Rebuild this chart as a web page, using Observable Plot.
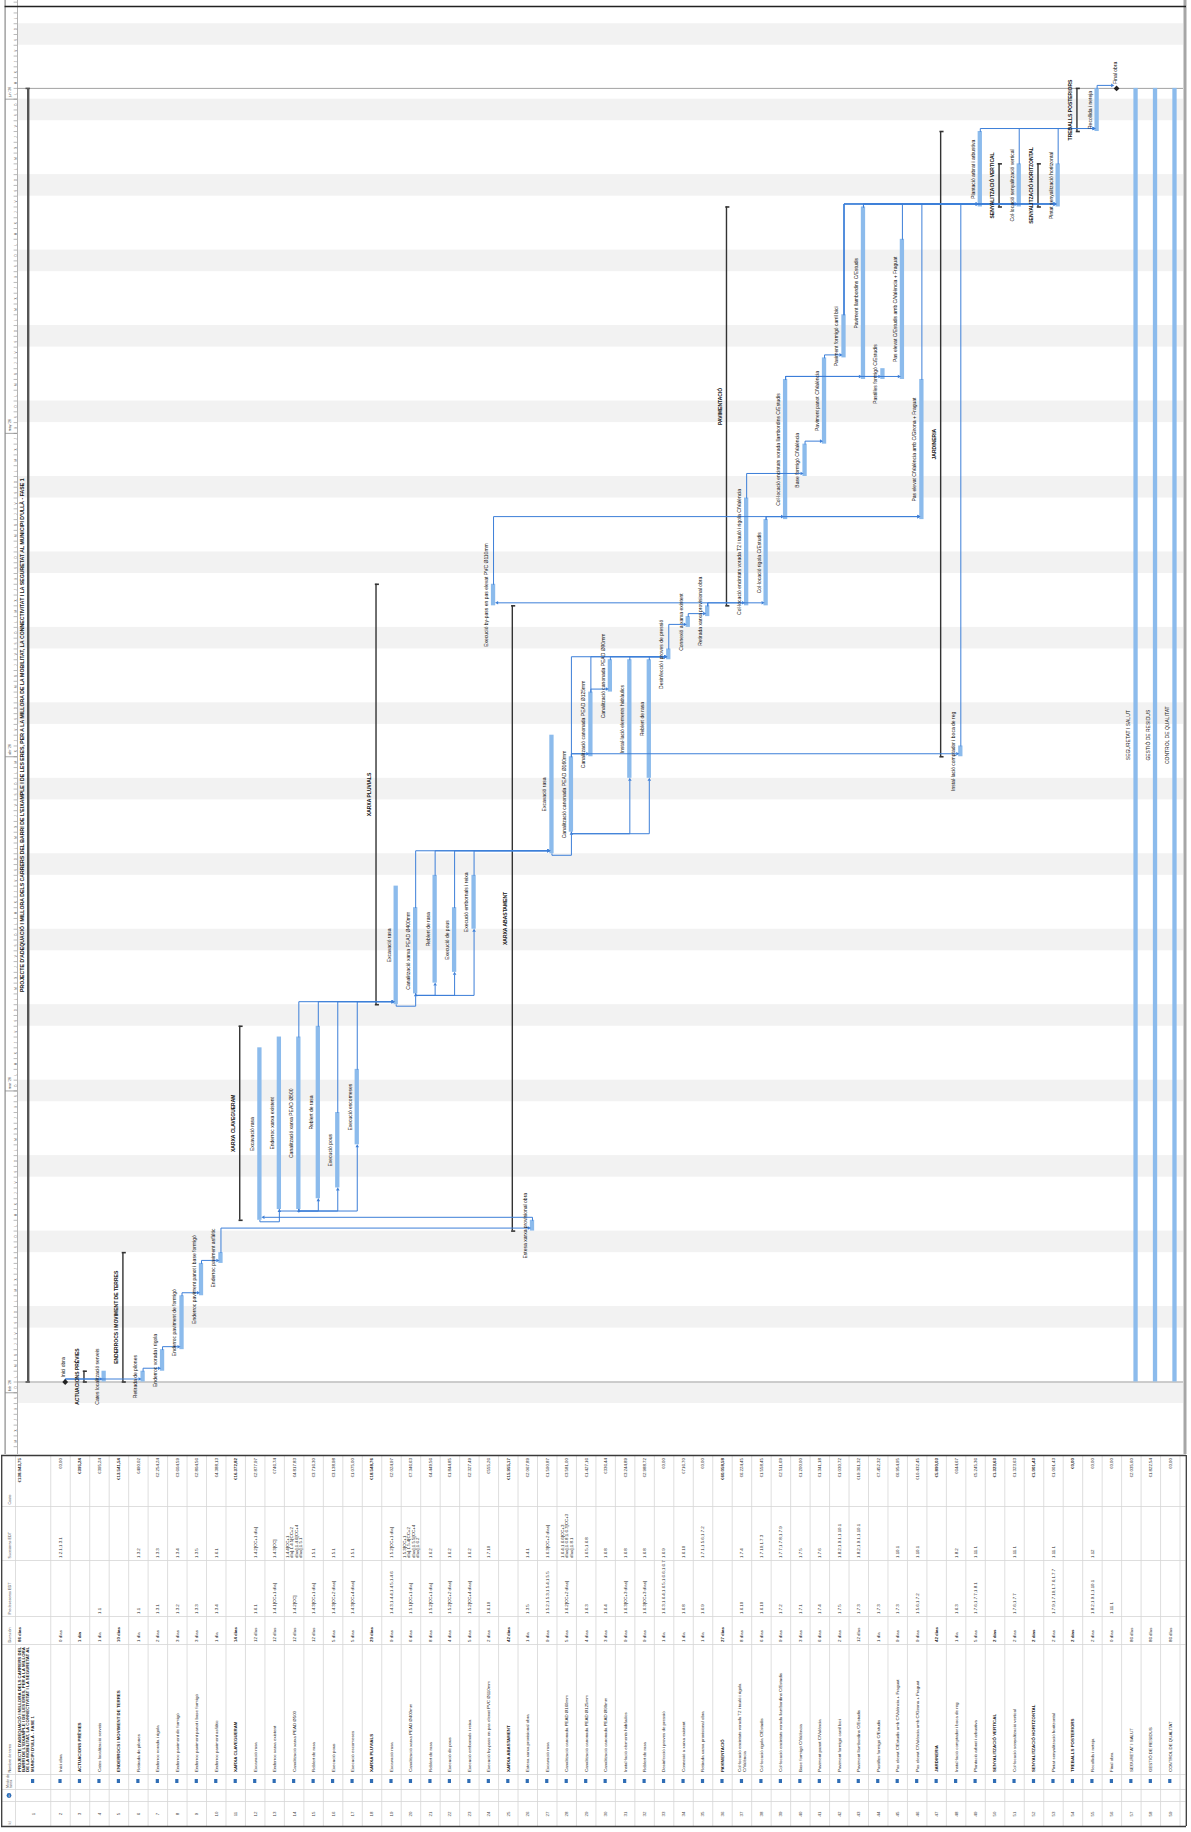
<!DOCTYPE html>
<html lang="ca">
<head>
<meta charset="utf-8">
<script src="https://cdn.jsdelivr.net/npm/d3@7"></script>
<script src="https://cdn.jsdelivr.net/npm/@observablehq/plot@0.6"></script>
<style>
html,body{margin:0;padding:0;background:#fff;}
#chart svg{display:block;}
</style>
</head>
<body>
<div id="chart"></div>
<script>
// ================= DATA =================
const taskNames = [
 "PROJECTE D'ADEQUACIÓ I MILLORA DELS CARRERS DEL BARRI DE L'EIXAMPLE I DE LES ERES, PER A LA MILLORA DE LA MOBILITAT, LA CONNECTIVITAT I LA SEGURETAT AL MUNICIPI D'ULLÀ - FASE 1",
 "Inici obra","ACTUACIONS PRÈVIES","Cates localització serveis","ENDERROCS I MOVIMENT DE TERRES",
 "Retirada de pilones","Enderroc vorada i rigola","Enderroc paviment de formigó","Enderroc paviment panot i base formigó",
 "Enderroc paviment asfàltic","XARXA CLAVEGUERAM","Excavació rasa","Enderroc xarxa existent","Canalització xarxa PEAD Ø500",
 "Reblert de rasa","Execució pous","Execució escomeses","XARXA PLUVIALS","Excavació rasa","Canalització xarxa PEAD Ø400mm",
 "Reblert de rasa","Execució de pous","Execució embornals i reixa","Execució by-pass en pas elevat PVC Ø110mm","XARXA ABASTAMENT",
 "Estesa xarxa provisional obra","Excavació rasa","Canalització canonada PEAD Ø160mm","Canalització canonada PEAD Ø125mm",
 "Canalització canonada PEAD Ø90mm","Instal·lació elements hidràulics","Reblert de rasa","Desinfecció i proves de pressió",
 "Connexió a xarxa existent","Retirada xarxa provisional obra","PAVIMENTACIÓ",
 "Col·locació encintats vorada T2 i tauló i rigola C/València","Col·locació rigola C/Estudis",
 "Col·locació encintats vorada llambordins C/Estudis","Base formigó C/València","Paviment panot C/València",
 "Paviment formigó carril bici","Paviment llambordins C/Estudis","Pastilles formigó C/Estudis",
 "Pas elevat C/Estudis amb C/València + Fraguat","Pas elevat C/València amb C/Girona + Fraguat","JARDINERIA",
 "Instal·lació comptador i boca de reg","Plantació arbrat i arbustiva","SENYALITZACIÓ VERTICAL",
 "Col·locació senyalització vertical","SENYALITZACIÓ HORITZONTAL","Pintat senyalització horitzontal",
 "TREBALLS POSTERIORS","Recollida i neteja","Final obra","SEGURETAT I SALUT","GESTIÓ DE RESIDUS","CONTROL DE QUALITAT"
];
const durations = ["86 días","0 días","1 día","1 día","10 días","1 día","2 días","3 días","3 días","1 día","14 días",
 "12 días","12 días","12 días","12 días","5 días","5 días","29 días","9 días","6 días","8 días","4 días","5 días","2 días",
 "42 días","1 día","9 días","5 días","4 días","3 días","9 días","9 días","1 día","1 día","1 día","27 días","8 días","6 días",
 "9 días","3 días","6 días","2 días","12 días","1 día","9 días","9 días","42 días","1 día","5 días","2 días","2 días",
 "2 días","2 días","2 días","2 días","0 días","86 días","86 días","86 días"];
const predecessors = ["","","","1.1","","1.1","1.3.1","1.3.2","1.3.3","1.3.4","","1.6.1","1.4.1[CC+1 día]","1.4.2[CC]",
 "1.4.3[CC+1 día]","1.4.3[CC+2 días]","1.4.3[CC+4 días]","","1.4.3;1.4.4;1.4.5;1.4.6","1.5.1[CC+1 día]","1.5.2[CC+1 día]",
 "1.5.2[CC+2 días]","1.5.2[CC+4 días]","1.6.10","","1.3.5","1.5.2;1.5.3;1.5.4;1.5.5","1.6.2[CC+2 días]","1.6.3","1.6.4",
 "1.6.3[CC+3 días]","1.6.3[CC+3 días]","1.6.3;1.6.4;1.6.5;1.6.6;1.6.7","1.6.8","1.6.9","","1.6.10","1.6.10","1.7.2","1.7.1",
 "1.7.4","1.7.5","1.7.3","1.7.3","1.7.3","1.5.6;1.7.2","","1.6.3","1.7.6;1.7.7;1.8.1","","1.7.6;1.7.7","",
 "1.7.9;1.7.10;1.7.6;1.7.7","","1.8.2;1.9.1;1.10.1","1.11.1","","",""];
const successors = ["","1.2.1;1.3.1","","","","1.3.2","1.3.3","1.3.4","1.3.5","1.6.1","","1.4.2[CC+1 día]","1.4.3[CC]",
 "1.4.4[CC+1 día];1.4.5[CC+2 días];1.4.6[CC+4 días];1.5.1","1.5.1","1.5.1","1.5.1","","1.5.2[CC+1 día]",
 "1.5.3[CC+1 día];1.5.4[CC+2 días];1.5.5[CC+4 días];1.6.2","1.6.2","1.6.2","1.6.2","1.7.10","","1.4.1","1.6.3[CC+2 días]",
 "1.6.4;1.6.6[CC+3 días];1.6.8;1.6.7[CC+3 días];1.8.1","1.6.5;1.6.8","1.6.8","1.6.8","1.6.8","1.6.9","1.6.10",
 "1.7.1;1.5.6;1.7.2","","1.7.4","1.7.10;1.7.3","1.7.7;1.7.8;1.7.9","1.7.5","1.7.6","1.8.2;1.9.1;1.10.1",
 "1.8.2;1.9.1;1.10.1","","1.10.1","1.10.1","","1.8.2","1.11.1","","1.11.1","","1.11.1","","1.12","","","",""];
const costs = ["€138.943,75","€0,00","€395,24","€395,24","€13.541,54","€490,02","€2.254,24","€3.604,59","€2.804,56",
 "€4.388,13","€16.372,82","€2.877,97","€746,74","€4.817,83","€3.716,30","€3.138,98","€1.075,00","€18.548,76","€2.024,97",
 "€7.346,63","€4.449,56","€1.844,85","€2.327,49","€555,26","€15.955,17","€2.067,89","€1.590,87","€3.581,00","€1.427,16",
 "€336,44","€3.244,89","€2.988,72","€0,00","€716,70","€0,00","€60.058,58","€6.224,45","€1.558,45","€2.511,69","€1.200,00",
 "€1.341,18","€1.030,72","€19.361,32","€7.452,32","€6.954,95","€10.432,45","€5.890,03","€644,67","€5.245,36","€1.323,63",
 "€1.323,63","€1.001,43","€1.001,43","€0,00","€0,00","€0,00","€2.035,60","€1.822,54","€0,00"];
// calendar days from project start (day 0 = Monday)
const startDay = [0,0,0,0,0,0,1,3,8,11,15,15,16,16,17,18,22,35,35,36,37,38,42,72,14,14,49,51,58,64,56,56,67,70,71,72,
 72,72,80,84,87,95,93,93,93,80,58,58,109,109,109,109,109,116,116,120,0,0,0];
const finishDay = [120,0,1,1,12,1,3,8,11,12,33,31,32,32,33,25,29,74,46,44,47,44,47,74,72,15,60,58,64,67,67,67,68,71,72,109,
 82,80,93,87,95,99,109,94,106,93,116,59,116,113,113,113,113,120,120,120,120,120,120];
const summaryIds = [1,3,5,11,18,25,36,47,50,52,54];
const milestoneIds = [2,56];
// dependency links (predecessor id -> successor id); FS = fin-comienzo, SS = comienzo-comienzo (CC)
const linkFrom = [2,2,6,7,8,9,10,26,12,13,14,14,14,14,15,16,17,19,20,20,20,20,21,22,23,27,28,29,28,28,28,29,30,31,32,33,34,
 35,35,35,38,37,40,41,39,39,39,24,38,28,42,43,48,42,43,42,43,45,46,49,51,53,55];
const linkTo = [4,6,7,8,9,10,26,12,13,14,15,16,17,19,19,19,19,20,21,22,23,27,27,27,27,28,29,30,31,32,33,33,33,33,33,34,35,
 24,37,38,39,40,41,42,43,44,45,46,46,48,49,49,49,51,51,53,53,53,53,55,55,55,56];
const linkKind = ["FS","FS","FS","FS","FS","FS","FS","FS","SS","SS","SS","SS","SS","FS","FS","FS","FS","SS","SS","SS","SS",
 "FS","FS","FS","FS","SS","FS","FS","SS","SS","FS","FS","FS","FS","FS","FS","FS","FS","FS","FS","FS","FS","FS","FS","FS",
 "FS","FS","FS","FS","FS","FS","FS","FS","FS","FS","FS","FS","FS","FS","FS","FS","FS","FS"];
const weekendStarts = [-9,-2,5,12,19,26,33,40,47,54,61,68,75,82,89,96,103,110,117,124];
const monthStarts = [-1,27,58,88,119];
const monthLabels = ["feb '26","mar '26","abr '26","may '26","jun '26"];
const dayLetters = ["L","M","X","J","V","S","D"];
const tableHeaders = ["Costo","Sucesoras EDT","Predecesoras EDT","Duración","Nombre de tarea","Modo de tarea","","Id"];

// ================= LAYOUT =================
const W = 1191, GANTT_H = 1454, TABLE_H = 378;
const ROW_W = 19.47, ROW2_C = 60;
const xu = px => 2 + (px - ROW2_C) / ROW_W;   // page px -> row units
const ux = px => px / ROW_W;                   // px length -> row units
const PXD = 10.78, DAY0_Y = 1381.5;
const dd = px => px / PXD;                     // px length -> days
const DAY_TOP = DAY0_Y / PXD, DAY_BOTTOM = (DAY0_Y - GANTT_H) / PXD;
const FONT = "'Liberation Sans', Arial, sans-serif";
const BAR = "#8cbbec", LINK = "#3d7fd8", SUMC = "#333";

const tasks = taskNames.map((name, i) => ({
  id: i + 1, name, dur: durations[i], pred: predecessors[i], succ: successors[i], cost: costs[i],
  start: startDay[i], finish: finishDay[i],
  summary: summaryIds.includes(i + 1), milestone: milestoneIds.includes(i + 1)
}));
const byId = id => tasks[id - 1];
const rowC = id => id === 1 ? xu(32.6) : id;
const rowL = id => id === 1 ? xu(15) : id - 0.5;
const barC = id => id === 1 ? xu(27.7) : id + ux(4.7);
const sumC = id => id === 1 ? xu(27.7) : id + ux(4);
const labC = id => id === 1 ? xu(21.7) : id - ux(2.5);
const HB = 2.15; // half bar width px

// link geometry
const linkPts = [], arrows = [];
linkFrom.forEach((p, i) => {
  const s = linkTo[i], P = byId(p), S = byId(s);
  const xp = barC(p), xs = barC(s);
  if (linkKind[i] === "FS") {
    const lvl = S.start + dd(3);
    const dir = Math.sign(xs - xp);
    const half = S.milestone ? 3 : HB;
    linkPts.push({k: i, x: xp, y: P.finish}, {k: i, x: xp, y: lvl}, {k: i, x: xs - dir * ux(half + 2.6), y: lvl});
    arrows.push({x: xs - dir * ux(half + 1.4), y: lvl, r: dir > 0 ? 90 : -90});
  } else {
    const low = P.start - dd(1.5);
    linkPts.push({k: i, x: xp, y: P.start}, {k: i, x: xp, y: low}, {k: i, x: xs, y: low}, {k: i, x: xs, y: S.start - dd(2.6)});
    arrows.push({x: xs, y: S.start - dd(1.4), r: 0});
  }
});

const normal = tasks.filter(t => !t.summary && !t.milestone);
const summaries = tasks.filter(t => t.summary && t.id !== 1);
const project = tasks.filter(t => t.id === 1);
const milestones = tasks.filter(t => t.milestone);
const dayTicks = d3.range(Math.ceil(DAY_BOTTOM), Math.floor(DAY_TOP) + 1);
const dayCells = dayTicks.filter(d => d + 1 < DAY_TOP - dd(7));

const gantt = Plot.plot({
  width: W, height: GANTT_H, margin: 0,
  style: {fontFamily: FONT, background: "#fff"},
  x: {domain: [xu(0), xu(W)], range: [0, W], axis: null},
  y: {domain: [DAY_BOTTOM, DAY_TOP], range: [GANTT_H, 0], axis: null},
  marks: [
    Plot.rect(weekendStarts, {x1: xu(17), x2: xu(1183), y1: d => d, y2: d => d + 2, fill: "#f2f2f2"}),
    Plot.ruleY([project[0].start, project[0].finish], {x1: xu(17), x2: xu(1183), stroke: "#a3a3a3", strokeWidth: 1}),
    // timescale
    Plot.ruleY(dayTicks, {x1: xu(13.6), x2: xu(17), stroke: "#8c8c8c", strokeWidth: 0.6}),
    Plot.text(dayCells, {x: xu(15.2), y: d => d + 0.5, text: d => dayLetters[((d % 7) + 7) % 7], rotate: -90, fontSize: 3, fill: "#666"}),
    Plot.ruleY(monthStarts, {x1: xu(5), x2: xu(17), stroke: "#8c8c8c", strokeWidth: 0.8}),
    Plot.text(monthStarts, {x: xu(9.5), y: d => d + dd(2), text: (d, i) => monthLabels[i], rotate: -90, textAnchor: "start", fontSize: 3.6, fill: "#444"}),
    Plot.ruleX([xu(4.6)], {stroke: "#8a8a8a", strokeWidth: 1.2}),
    Plot.ruleX([xu(17)], {stroke: "#a0a0a0", strokeWidth: 0.8}),
    Plot.ruleX([xu(1184.5)], {stroke: "#a6a6a6", strokeWidth: 3}),
    Plot.ruleY([DAY_TOP - dd(6)], {x1: xu(4.6), x2: xu(1186), stroke: "#222", strokeWidth: 1.3}),
    // task bars
    Plot.rect(normal, {x1: d => barC(d.id) - ux(HB), x2: d => barC(d.id) + ux(HB), y1: "start", y2: "finish", fill: BAR}),
    // summary bars
    Plot.ruleX(summaries, {x: d => sumC(d.id), y1: "start", y2: "finish", stroke: SUMC, strokeWidth: 1.4}),
    Plot.ruleY(summaries, {y: "start", x1: d => sumC(d.id) - ux(0.7), x2: d => sumC(d.id) + ux(3.4), stroke: SUMC, strokeWidth: 1.6}),
    Plot.ruleY(summaries, {y: "finish", x1: d => sumC(d.id) - ux(0.7), x2: d => sumC(d.id) + ux(3.4), stroke: SUMC, strokeWidth: 1.6}),
    Plot.ruleX(project, {x: d => sumC(d.id), y1: "start", y2: "finish", stroke: "#555", strokeWidth: 2.4}),
    Plot.ruleY(project, {y: "start", x1: d => sumC(d.id) - ux(2.2), x2: d => sumC(d.id) + ux(2.2), stroke: "#555", strokeWidth: 1.6}),
    Plot.ruleY(project, {y: "finish", x1: d => sumC(d.id) - ux(2.2), x2: d => sumC(d.id) + ux(2.2), stroke: "#555", strokeWidth: 1.6}),
    // links
    Plot.line(linkPts, {x: "x", y: "y", z: "k", stroke: LINK, strokeWidth: 1, curve: "linear"}),
    Plot.dot(arrows, {x: "x", y: "y", rotate: "r", symbol: "triangle2", r: 1.7, fill: LINK, stroke: null}),
    // milestones
    Plot.dot(milestones, {x: d => barC(d.id), y: "start", symbol: "diamond2", r: 2.6, fill: "#222"}),
    // labels
    Plot.text(normal, {x: d => labC(d.id), y: d => (d.start + d.finish) / 2, text: "name", rotate: -90, fontSize: 5, fill: "#111"}),
    Plot.text(summaries, {x: d => labC(d.id), y: d => (d.start + d.finish) / 2, text: "name", rotate: -90, fontSize: 5, fontWeight: "bold", fill: "#111"}),
    Plot.text(project, {x: d => labC(d.id), y: d => (d.start + d.finish) / 2, text: "name", rotate: -90, fontSize: 5.2, fontWeight: "bold", fill: "#111"}),
    Plot.text(milestones, {x: d => barC(d.id) - ux(1.5), y: d => d.start + dd(4.5), text: "name", rotate: -90, textAnchor: "start", fontSize: 5, fill: "#111"})
  ]
});

// ================= TABLE =================
const COLS = [1455, 1506, 1560, 1616, 1644, 1774, 1789, 1801, 1826];
const rowEdges = [xu(15)].concat(tasks.slice(1).map(t => t.id - 0.5), [59.5]);
const TF = 4.4;
// word wrap measured with the real font (cells wrap at spaces, like the source table)
const ctx = document.createElement("canvas").getContext("2d");
function wrap(text, maxPx, bold) {
  ctx.font = `${bold ? "bold " : ""}100px "Liberation Sans", Arial, sans-serif`;
  const m = s => ctx.measureText(s).width * TF / 100;
  const words = text.split(" ");
  const lines = [];
  let line = "";
  for (const w of words) {
    const t = line ? line + " " + w : w;
    if (line && m(t) > maxPx) { lines.push(line); line = w; } else line = t;
  }
  if (line) lines.push(line);
  return lines.join("\n");
}
const WRAP = {name: [105, 127], pred: [50, 50], succ: [50, 50]};
function cells(field, y, anchor) {
  const txt = (d, bold) => WRAP[field] ? wrap(d[field], WRAP[field][bold ? 1 : 0], bold) : d[field];
  const base = {y: () => y, rotate: -90, textAnchor: anchor, fontSize: TF, fill: "#262626"};
  const boldField = !(field === "pred" || field === "succ");
  const rows = tasks.filter(t => t[field] !== "");
  return [
    Plot.text(rows.filter(t => t.id !== 1 && !t.summary), {...base, x: d => rowC(d.id), text: d => txt(d, false)}),
    Plot.text(rows.filter(t => t.id !== 1 && t.summary), {...base, x: d => rowC(d.id), text: d => txt(d, boldField), fontWeight: boldField ? "bold" : "normal"}),
    Plot.text(rows.filter(t => t.id === 1), {...base, x: d => rowL(d.id) + ux(2), text: d => txt(d, true), lineAnchor: "top", fontWeight: "bold"})
  ];
}
const headerIdx = tableHeaders.map((h, i) => i);
const table = Plot.plot({
  width: W, height: TABLE_H, margin: 0,
  style: {fontFamily: FONT, background: "#fff"},
  x: {domain: [xu(0), xu(W)], range: [0, W], axis: null},
  y: {domain: [GANTT_H, GANTT_H + TABLE_H], range: [0, TABLE_H], axis: null},
  marks: [
    Plot.ruleX(rowEdges, {y1: COLS[0], y2: COLS[8], stroke: "#d6d6d6", strokeWidth: 0.8}),
    Plot.ruleY(COLS.slice(1, -1), {x1: xu(1.5), x2: xu(1185.5), stroke: "#d6d6d6", strokeWidth: 0.8}),
    Plot.ruleY([COLS[0], COLS[8]], {x1: xu(1), x2: xu(1186), stroke: "#3a3a3a", strokeWidth: 1.3}),
    Plot.ruleX([xu(1.2), xu(1185.8)], {y1: COLS[0], y2: COLS[8], stroke: "#3a3a3a", strokeWidth: 1.3}),
    // header column
    Plot.text(headerIdx.filter(i => i !== 5), {x: xu(9), y: i => COLS[i + 1] - 2, text: i => tableHeaders[i], rotate: -90, textAnchor: "start", fontSize: 3.8, fill: "#555"}),
    Plot.text([5], {x: xu(5.5), y: i => COLS[i + 1] - 1.5, text: i => tableHeaders[i], rotate: -90, textAnchor: "start", lineAnchor: "top", fontSize: 3.6, fill: "#555", lineWidth: 4.5}),
    Plot.dot([0], {x: xu(8.5), y: (COLS[6] + COLS[7]) / 2, r: 2.4, fill: "#2f6db5"}),
    Plot.text([0], {x: xu(8.5), y: (COLS[6] + COLS[7]) / 2, text: () => "i", fontSize: 3.5, fill: "#fff", fontWeight: "bold"}),
    // cells
    ...cells("cost", COLS[0] + 2.5, "end"),
    ...cells("succ", COLS[2] - 2.5, "start"),
    ...cells("pred", COLS[3] - 2.5, "start"),
    ...cells("dur", COLS[4] - 2.5, "start"),
    ...cells("name", COLS[5] - 2.5, "start"),
    Plot.rect(tasks, {x1: d => rowC(d.id) - ux(1.6), x2: d => rowC(d.id) + ux(1.6), y1: (COLS[5] + COLS[6]) / 2 - 2.5, y2: (COLS[5] + COLS[6]) / 2 + 1.5, fill: "#2f6db5"}),
    Plot.text(tasks, {x: d => rowC(d.id), y: (COLS[7] + COLS[8]) / 2, text: d => String(d.id), rotate: -90, fontSize: TF, fill: "#444"})
  ]
});

const root = document.getElementById("chart");
root.appendChild(gantt);
root.appendChild(table);
</script>
</body>
</html>
